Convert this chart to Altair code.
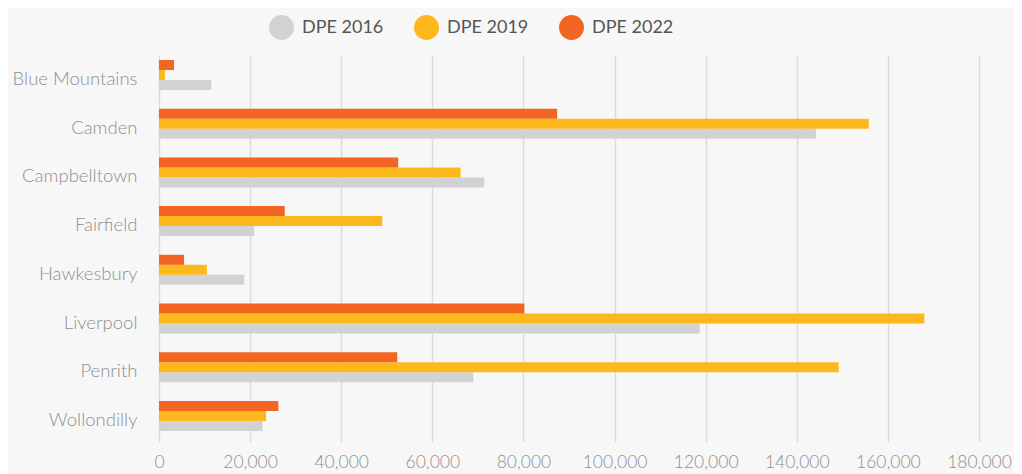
import altair as alt
import pandas as pd

regions = ["Blue Mountains", "Camden", "Campbelltown", "Fairfield",
           "Hawkesbury", "Liverpool", "Penrith", "Wollondilly"]
series = ["DPE 2016", "DPE 2019", "DPE 2022"]
dpe_2016 = [11500, 144200, 71400, 20900, 18700, 118700, 69000, 22700]
dpe_2019 = [1300, 155800, 66200, 49000, 10500, 168000, 149200, 23500]
dpe_2022 = [3300, 87400, 52500, 27600, 5500, 80200, 52300, 26200]
colors = ["#d1d2d4", "#fdb81e", "#f26522"]
x_ticks = [0, 20000, 40000, 60000, 80000, 100000, 120000, 140000, 160000, 180000]

rows = []
for s, vals in zip(series, [dpe_2016, dpe_2019, dpe_2022]):
    for r, v in zip(regions, vals):
        rows.append({"Region": r, "Series": s, "Value": v})
df = pd.DataFrame(rows)

font = "Lato"

chart = alt.Chart(df).mark_bar(size=10).encode(
    y=alt.Y("Region:N", sort=regions, title=None,
            scale=alt.Scale(paddingInner=0.3836, paddingOuter=0.1645, align=0.31),
            axis=alt.Axis(labelFont=font, labelFontSize=18.5, labelFontWeight=300,
                          labelColor="#8f8f8f", labelOffset=4,
                          labelPadding=22, ticks=False, domain=False, grid=False)),
    yOffset=alt.YOffset("Series:N", sort=["DPE 2022", "DPE 2019", "DPE 2016"]),
    x=alt.X("Value:Q", title=None,
            scale=alt.Scale(domain=[0, 180000], nice=False),
            axis=alt.Axis(values=x_ticks, format=",d", labelFont=font, labelFontSize=17.5,
                          labelFontWeight=300, labelOverlap=False, labelFlush=False,
                          labelColor="#8f8f8f", labelPadding=11, ticks=False, domain=False,
                          grid=True, gridColor="#dcdcdc", gridWidth=1.5)),
    color=alt.Color("Series:N", sort=series,
                    scale=alt.Scale(domain=series, range=colors),
                    legend=alt.Legend(title=None, orient="none", direction="horizontal",
                                      legendX=110, legendY=-40, symbolType="circle",
                                      symbolSize=625, symbolStrokeWidth=0,
                                      labelFont=font, labelFontSize=18, labelColor="#555555",
                                      labelOffset=8, columnPadding=30)),
).properties(
    width=820, height=387,
    autosize=alt.AutoSizeParams(type="none"),
    padding={"left": 151, "top": 47, "right": 35, "bottom": 34},
    background="#f7f7f7",
).configure_view(stroke=None)

chart.save("out.html", embed_options={"renderer": "svg", "actions": False})
